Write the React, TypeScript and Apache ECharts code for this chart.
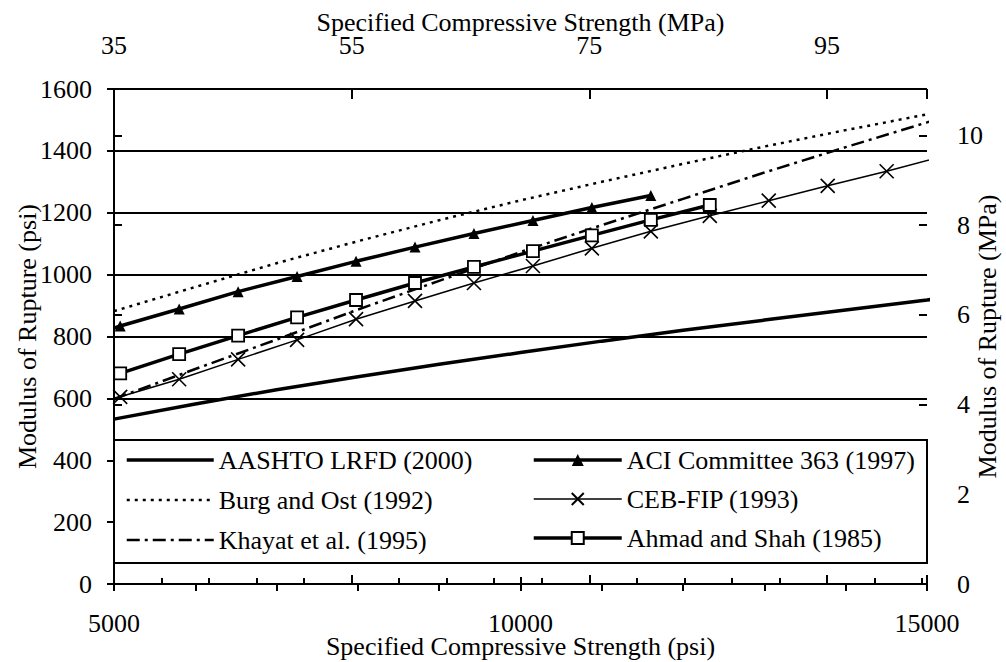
import { useEffect, useRef } from 'react';
import * as echarts from 'echarts';

const PSI_PER_MPA = 145.038;
const SERIF = 'Liberation Serif';

// Unmarked design curves, sampled every 1000 psi (last point runs just past the axis end)
const curvePsi = [5000, 6000, 7000, 8000, 9000, 10000, 11000, 12000, 13000, 14000, 15000, 15120];
const aashtoRupture = [533, 582, 628, 670, 710, 748, 785, 820, 853, 886, 918, 922];
const burgOstRupture = [882, 960, 1037, 1108, 1176, 1240, 1300, 1358, 1414, 1467, 1518, 1524];
const khayatRupture = [598, 695, 790, 887, 980, 1073, 1160, 1245, 1330, 1412, 1492, 1502];

// Marked curves: one marker every 5 MPa, line starting at 5000 psi
const aciMpa = [35, 40, 45, 50, 55, 60, 65, 70, 75, 80];
const aciRupture = [834, 889, 945, 994, 1043, 1089, 1133, 1175, 1217, 1256];
const aciStart = 827;

const cebMpa = [35, 40, 45, 50, 55, 60, 65, 70, 75, 80, 85, 90, 95, 100];
const cebRupture = [605, 662, 726, 789, 856, 915, 973, 1028, 1085, 1140, 1190, 1239, 1287, 1334];
const cebStart = 598;
const cebEndPsi = 15120;
const cebEnd = 1377;

const ahmadMpa = [35, 40, 45, 50, 55, 60, 65, 70, 75, 80, 85];
const ahmadRupture = [681, 743, 803, 862, 918, 973, 1025, 1076, 1127, 1177, 1225];
const ahmadStart = 675;

// Axis ranges
const psiMin = 5000;
const psiMax = 15000;
const mpaBase = 35;
const mpaTopMax = psiMax / PSI_PER_MPA - mpaBase;
const ruptureMaxPsi = 1600;
const ruptureMaxMpa = ruptureMaxPsi / PSI_PER_MPA;

const X_PATH = 'path://M0,0L10,10M10,0L0,10';

const pairs = (xs: number[], ys: number[]) => xs.map((x, i) => [x, ys[i]]);

const marked = (start: number, mpa: number[], vals: number[], tail?: [number, number]) => {
  const out: any[] = [{ value: [psiMin, start], symbol: 'none' }];
  mpa.forEach((m, i) => out.push([m * PSI_PER_MPA, vals[i]]));
  if (tail) out.push({ value: tail, symbol: 'none' });
  return out;
};

const black = '#000';
const tickLine = { color: black, width: 2 };
const labelText = { color: black, fontFamily: SERIF, fontSize: 26 };
const tightText = { ...labelText, lineHeight: 22 };
const hidden = { show: false };

export default function App() {
  const ref = useRef<HTMLDivElement>(null);

  useEffect(() => {
    if (!ref.current) return;
    const chart = echarts.init(ref.current, null, { renderer: 'svg' });

    const option: any = {
      animation: false,
      backgroundColor: '#fff',
      textStyle: { fontFamily: SERIF },
      grid: { left: 114, right: 79, top: 89, bottom: 78, containLabel: false, outerBoundsMode: 'none' },
      xAxis: [
        {
          type: 'value', position: 'bottom', min: psiMin, max: psiMax, interval: 1000,
          axisLine: { show: true, lineStyle: tickLine },
          axisTick: { show: true, inside: false, length: 7, lineStyle: tickLine },
          axisLabel: { ...tightText, margin: 28, formatter: (v: number) => (v % 5000 === 0 ? String(v) : '') },
          splitLine: hidden,
          name: 'Specified Compressive Strength (psi)', nameLocation: 'middle', nameGap: 51,
          nameMoveOverlap: false, nameTextStyle: tightText,
        },
        {
          type: 'value', position: 'bottom', min: psiMin, max: psiMax, interval: 5000,
          axisLine: hidden, axisLabel: hidden, splitLine: hidden,
          axisTick: { show: true, inside: true, length: 7, lineStyle: tickLine },
        },
        {
          type: 'value', position: 'top', min: 0, max: mpaTopMax, interval: 4,
          axisLine: { show: true, lineStyle: tickLine },
          axisTick: { show: true, inside: false, length: 6, lineStyle: tickLine },
          axisLabel: {
            ...tightText, margin: 33,
            formatter: (v: number) => (Math.abs(v % 20) < 1e-6 ? String(Math.round(v + mpaBase)) : ''),
          },
          splitLine: hidden,
          name: 'Specified Compressive Strength (MPa)', nameLocation: 'middle', nameGap: 56,
          nameMoveOverlap: false, nameTextStyle: tightText,
        },
        {
          type: 'value', position: 'top', min: 0, max: mpaTopMax, interval: 20,
          axisLine: hidden, axisLabel: hidden, splitLine: hidden,
          axisTick: { show: true, inside: false, length: 9, lineStyle: tickLine },
        },
        {
          type: 'value', position: 'top', min: 0, max: mpaTopMax, interval: 20,
          axisLine: hidden, axisLabel: hidden, splitLine: hidden,
          axisTick: { show: true, inside: true, length: 10, lineStyle: tickLine },
        },
      ],
      yAxis: [
        {
          type: 'value', position: 'left', min: 0, max: ruptureMaxPsi, interval: 200,
          axisLine: { show: true, lineStyle: tickLine },
          axisTick: { show: true, inside: false, length: 7, lineStyle: tickLine },
          axisLabel: { ...labelText, margin: 22, formatter: (v: number) => String(v) },
          splitLine: { show: true, lineStyle: { color: black, width: 2 } },
          name: 'Modulus of Rupture (psi)', nameLocation: 'middle', nameGap: 74, nameRotate: 90,
          nameMoveOverlap: false, nameTextStyle: labelText,
        },
        {
          type: 'value', position: 'left', min: 0, max: ruptureMaxPsi, interval: 200,
          axisLine: hidden, axisLabel: hidden, splitLine: hidden,
          axisTick: { show: true, inside: true, length: 7, lineStyle: tickLine },
        },
        {
          type: 'value', position: 'right', min: 0, max: ruptureMaxMpa, interval: 2,
          axisLine: { show: true, lineStyle: tickLine },
          axisTick: { show: true, inside: false, length: 8, lineStyle: tickLine },
          axisLabel: {
            ...labelText, margin: 30,
            formatter: (v: number) => (Math.abs(v % 2) < 1e-6 ? String(Math.round(v)) : ''),
          },
          splitLine: hidden,
          name: 'Modulus of Rupture (MPa)', nameLocation: 'middle', nameGap: 49, nameRotate: 90,
          nameMoveOverlap: false, nameTextStyle: tightText,
        },
        {
          type: 'value', position: 'right', min: 0, max: ruptureMaxMpa, interval: 2,
          axisLine: hidden, axisLabel: hidden, splitLine: hidden,
          axisTick: { show: true, inside: true, length: 8, lineStyle: tickLine },
        },
      ],
      graphic: [
        {
          type: 'rect', z: 10,
          shape: { x: 114, y: 440, width: 813, height: 123 },
          style: { fill: '#fff', stroke: black, lineWidth: 2 },
        },
      ],
      legend: [
        {
          z: 20, orient: 'vertical', left: 125, top: 447, padding: 0,
          itemWidth: 87, itemHeight: 14, itemGap: 14,
          textStyle: { ...labelText, lineHeight: 26 },
          lineStyle: { width: 'inherit' },
          data: [
            { name: 'AASHTO LRFD (2000)', itemStyle: { opacity: 0 } },
            { name: 'Burg and Ost (1992)', itemStyle: { opacity: 0 } },
            { name: 'Khayat et al. (1995)', itemStyle: { opacity: 0 } },
          ],
        },
        {
          z: 20, orient: 'vertical', left: 532, top: 447, padding: 0,
          itemWidth: 88, itemHeight: 15, itemGap: 13,
          textStyle: { ...labelText, lineHeight: 26 },
          lineStyle: { width: 'inherit' },
          data: ['ACI Committee 363 (1997)', 'CEB-FIP (1993)', 'Ahmad and Shah (1985)'],
        },
      ],
      series: [
        {
          name: 'AASHTO LRFD (2000)', type: 'line', clip: false, z: 3,
          data: pairs(curvePsi, aashtoRupture), symbol: 'none',
          lineStyle: { color: black, width: 3.5 }, itemStyle: { color: black },
        },
        {
          name: 'Burg and Ost (1992)', type: 'line', clip: false, z: 3,
          data: pairs(curvePsi, burgOstRupture), symbol: 'none',
          lineStyle: { color: black, width: 2.5, type: [3, 5] }, itemStyle: { color: black },
        },
        {
          name: 'Khayat et al. (1995)', type: 'line', clip: false, z: 3,
          data: pairs(curvePsi, khayatRupture), symbol: 'none',
          lineStyle: { color: black, width: 2.5, type: [13, 5, 3, 5] }, itemStyle: { color: black },
        },
        {
          name: 'ACI Committee 363 (1997)', type: 'line', clip: false, z: 4, showAllSymbol: true,
          data: marked(aciStart, aciMpa, aciRupture), symbol: 'triangle', symbolSize: 11,
          lineStyle: { color: black, width: 3.5 }, itemStyle: { color: black },
        },
        {
          name: 'CEB-FIP (1993)', type: 'line', clip: false, z: 4, showAllSymbol: true,
          data: marked(cebStart, cebMpa, cebRupture, [cebEndPsi, cebEnd]), symbol: X_PATH, symbolSize: 14,
          lineStyle: { color: black, width: 1.5 },
          itemStyle: { color: black, borderColor: black, borderWidth: 1.6 },
        },
        {
          name: 'Ahmad and Shah (1985)', type: 'line', clip: false, z: 4, showAllSymbol: true,
          data: marked(ahmadStart, ahmadMpa, ahmadRupture), symbol: 'rect', symbolSize: 12,
          lineStyle: { color: black, width: 3.5 },
          itemStyle: { color: '#fff', borderColor: black, borderWidth: 1.8 },
        },
      ],
    };

    chart.setOption(option);
    return () => chart.dispose();
  }, []);

  return (
    <div
      ref={ref}
      style={{ position: 'absolute', left: 0, top: 0, width: 1006, height: 662, background: '#fff' }}
    />
  );
}
